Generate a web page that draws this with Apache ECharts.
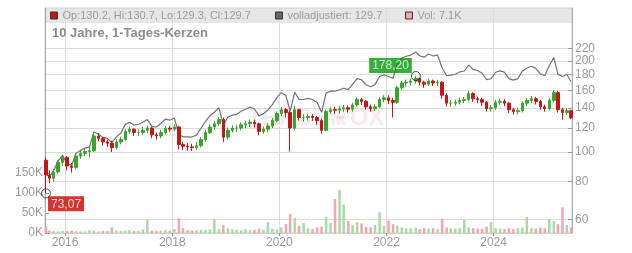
<!DOCTYPE html>
<html><head><meta charset="utf-8">
<script src="https://cdn.jsdelivr.net/npm/echarts@6/dist/echarts.min.js"></script>
<style>html,body{margin:0;padding:0;background:#fff}#c{width:632px;height:253px}</style>
</head><body><div id="c"></div>
<script>
// ---- data (monthly candles) ----
const dates = [
 '2015-08-24','2015-09-15','2015-10-15','2015-11-15','2015-12-15',
 '2016-01-15','2016-02-15','2016-03-15','2016-04-15','2016-05-15','2016-06-15','2016-07-15','2016-08-15','2016-09-15','2016-10-15','2016-11-15','2016-12-15',
 '2017-01-15','2017-02-15','2017-03-15','2017-04-15','2017-05-15','2017-06-15','2017-07-15','2017-08-15','2017-09-15','2017-10-15','2017-11-15','2017-12-15',
 '2018-01-15','2018-02-15','2018-03-15','2018-04-15','2018-05-15','2018-06-15','2018-07-15','2018-08-15','2018-09-15','2018-10-15','2018-11-15','2018-12-15',
 '2019-01-15','2019-02-15','2019-03-15','2019-04-15','2019-05-15','2019-06-15','2019-07-15','2019-08-15','2019-09-15','2019-10-15','2019-11-15','2019-12-15',
 '2020-01-15','2020-02-15','2020-03-15','2020-04-15','2020-05-15','2020-06-15','2020-07-15','2020-08-15','2020-09-15','2020-10-15','2020-11-15','2020-12-15',
 '2021-01-15','2021-02-15','2021-03-15','2021-04-15','2021-05-15','2021-06-15','2021-07-15','2021-08-15','2021-09-15','2021-10-15','2021-11-15','2021-12-15',
 '2022-01-15','2022-02-15','2022-03-15','2022-04-15','2022-05-15','2022-06-15','2022-07-20','2022-08-15','2022-09-15','2022-10-15','2022-11-15','2022-12-15',
 '2023-01-15','2023-02-15','2023-03-15','2023-04-15','2023-05-15','2023-06-15','2023-07-15','2023-08-15','2023-09-15','2023-10-15','2023-11-15','2023-12-15',
 '2024-01-15','2024-02-15','2024-03-15','2024-04-15','2024-05-15','2024-06-15','2024-07-15','2024-08-15','2024-09-15','2024-10-15','2024-11-15','2024-12-15',
 '2025-01-15','2025-02-15','2025-03-15','2025-04-15','2025-05-15','2025-06-12'
];
const opens = [
 94,84,82,86,92.5,
 96,90,89,97,99,100.5,101,113,111,108,107,103.5,
 108,110,117,119,116,116,118,120,114,113,116,120,
 119,121,106,104.5,104,103.5,105,110,116,121,124,128,
 112,118,120,120,123,124,125.5,124,117,119,122,127,
 134,138,135,120,138,130,130,131,130,127,118,136,
 138,137.5,139,140,138.5,143,149,147,141,139,141,149,
 151,148,146,163,169,170,171.5,175,170,167.5,171.5,169,
 170,154,145,145,146,148,149,156,150,149,146,139,
 140,146,147,145,138,136,137,145,148,150,147,141,
 139,148,157,138,135,137
];
const closes = [
 84,82,86,92.5,96,
 90,89,97,99,100.5,101,113,111,108,107,103.5,108,
 110,117,119,116,116,118,120,114,113,116,120,119,
 121,106,104.5,104,103.5,105,110,116,121,124,128,112,
 118,120,120,123,124,125.5,124,117,119,122,127,134,
 138,135,120,138,130,130,131,130,127,118,136,138,
 137.5,139,140,138.5,143,149,147,141,139,141,149,151,
 148,146,163,169,170,171.5,175,170,167.5,171.5,169,170,
 154,145,145,146,148,149,156,150,149,146,139,140,
 146,147,145,138,136,137,145,148,150,147,141,139,
 148,157,138,135,137,129.7
];
const lows = [
 73.07,79,80,85,90,
 87,85.5,88,95,97,96,100,108.5,105,104,100,102,
 106,109,115,113,113,114,115.5,111,110,111,114.5,116.5,
 117,102,101.5,101,101,101.5,103.5,108.5,114.5,118.5,122,108,
 110,116,116.5,118,120,121,120.5,113.5,115,116.5,120,125.5,
 131,130,100.5,118,127,126,127,126.5,123,115,117,133.5,
 133.5,134,135.5,135,136,141.5,143,138,136,136.5,139.5,146,
 144,130,144,160.5,164.5,166,168,166,163,165,165,165,
 150,141.5,141,142,143.5,145,147,146.5,145,142,136,136,
 138,143,141.5,134.5,133,133,135,142,145,143.5,138,136,
 137,146,135,128,132.5,128.5
];
const highs = [
 96,87,88,94,98,
 97,92,99,101.5,103,104,115,115.5,112,110,109,110.5,
 112.5,119,121.5,120,119,121,122.5,121,116,118.5,122,122,
 123.5,122,108,107,106.5,108,112,118.5,123.5,126.5,130.5,130,
 120.5,122.5,123,125.5,127,128,128,125,121.5,124.5,129.5,136,
 141,140,137,142,139,133.5,134,133.5,131.5,129,138,140.5,
 141,142,143,142.5,145.5,151.5,151,148.5,143.5,144,151.5,154,
 154,151,165.5,171.5,173.5,174.5,178.2,176,172,174,173.5,173,
 171.5,156,148.5,149,151,152,159,157.5,152.5,151,147.5,143,
 148.5,150,149.5,146.5,140,140,147.5,150.5,153,152,148.5,143.5,
 150.5,160,159,140,139.5,138
];
const adjusted = [
 85,82.5,87,93.5,97.5,
 91.4,90.5,98.9,101.3,103.1,103.8,116.5,114.7,111.8,111,107.5,112.2,
 115.5,123.4,125.5,122.8,123.3,125.4,128,121.6,121,124.2,128.5,127.4,
 129.6,114,112.3,112.2,112.1,113.7,119.6,126.1,132,135.3,140.2,122.6,
 130.3,132.5,133,136.3,138.5,140.7,139,131.6,133.9,137.7,143.4,151.3,
 157,153.6,136.6,157.6,149.1,149.1,150.3,149.1,145.7,135.3,156.5,158.8,
 158.8,160.5,162.4,160.7,167.7,174.8,173.2,166.7,164.3,167.2,177.5,179.8,
 177.6,175.2,196.3,204.3,207.1,208.9,214,207.9,205.7,210.6,207.5,208.8,
 189.7,178.6,179.4,180.6,183.8,185.1,193.8,187.1,185.8,182.1,173.3,174.6,
 183.4,185.4,183.6,174.7,172.7,174.7,184.9,189.4,192,188.9,181.2,178.6,
 193.1,204.9,180.8,177.5,180.2,170.6
];
const volumesK = [
 17,6,5,4,5,
 5,6,5,4,4,7,6,4,5,5,14,6,
 5,6,7,5,6,9,33,6,5,6,7,6,
 10,37,12,7,6,7,8,7,9,34,10,20,
 12,9,8,7,10,7,8,11,8,27,10,9,
 14,22,47,38,18,25,12,10,14,16,40,25,
 85,108,71,30,20,27,24,15,14,20,52,18,
 31,22,18,14,12,12,13,10,12,11,12,10,
 36,14,12,11,12,33,14,12,11,10,16,27,
 12,11,10,12,10,12,14,40,12,11,13,12,
 35,30,22,64,20,14
];
const priceTicks = [60, 80, 100, 120, 140, 160, 180, 200, 220];
const volumeTicks = [0, 50, 100, 150];
const yearTicks = ['2016-01-01', '2018-01-01', '2020-01-01', '2022-01-01', '2024-01-01'];
const axisStart = '2015-08-17', axisEnd = '2025-06-19';
const lowPoint = ['2015-08-24', 73.07];
const highPoint = ['2022-07-20', 178.20];
const lastOpen = 130.2, lastHigh = 130.7, lastLow = 129.3, lastClose = 129.7;
const lastAdjusted = 129.7;
const lastVolume = '7.1K';

// ---- styles ----
const UP = '#3aa52c', DOWN = '#c71515';
const VOL_UP = '#a9dba1', VOL_DOWN = '#f2a5ad';
const LABEL = '#9a9a9a', GRID = '#dcdcdc';

const T = d => Date.parse(d + 'T00:00:00Z');
const candleData = dates.map((d, i) => [T(d), opens[i], closes[i], lows[i], highs[i]]);
const adjData = dates.map((d, i) => [T(d), adjusted[i]]);
const volData = dates.map((d, i) => ({
  value: [T(d), volumesK[i]],
  itemStyle: { color: closes[i] >= opens[i] ? VOL_UP : VOL_DOWN }
}));
const fmt = v => v.toFixed(2).replace('.', ',');

const chart = echarts.init(document.getElementById('c'));
const legendBase = {
  top: 10, itemWidth: 7, itemHeight: 7, icon: 'rect', padding: 0,
  selectedMode: false, textStyle: { color: LABEL, fontSize: 11 }
};
chart.setOption({
  animation: false,
  textStyle: { fontFamily: 'Liberation Sans, Arial, sans-serif' },
  title: {
    text: '10 Jahre, 1-Tages-Kerzen', left: 52, top: 27, padding: 0,
    textStyle: { fontSize: 13, fontWeight: 'bold', color: '#8c8c8c' }
  },
  graphic: [
    { type: 'rect', z: -10, silent: true, shape: { x: 45, y: 8, width: 527, height: 15 }, style: { fill: '#e6e6e6' } },
    { type: 'text', z: -9, silent: true, left: 247, top: 106, style: { text: 'TRADER', font: 'bold 24px Liberation Sans', fill: 'rgba(90,90,90,0.10)' } },
    { type: 'text', z: -9, silent: true, left: 335, top: 106, style: { text: 'FOX', font: 'bold 24px Liberation Sans', fill: 'rgba(235,70,90,0.13)' } }
  ],
  legend: [
    Object.assign({}, legendBase, { left: 50, data: [{ name: 'Kurs', itemStyle: { color: DOWN, borderColor: '#333', borderWidth: 1 } }],
      formatter: () => 'Op:' + lastOpen + ', Hi:' + lastHigh + ', Lo:' + lastLow + ', Cl:' + lastClose }),
    Object.assign({}, legendBase, { left: 275, data: [{ name: 'volladjustiert', itemStyle: { color: '#666', borderColor: '#333', borderWidth: 1 } }],
      formatter: () => 'volladjustiert: ' + lastAdjusted }),
    Object.assign({}, legendBase, { left: 405, data: [{ name: 'Vol', itemStyle: { color: VOL_DOWN, borderColor: '#333', borderWidth: 1 } }],
      formatter: () => 'Vol: ' + lastVolume })
  ],
  grid: { left: 45, right: 60, top: 8, bottom: 20, show: true, borderColor: '#cfcfcf', borderWidth: 1 },
  xAxis: {
    type: 'value', min: T(axisStart), max: T(axisEnd),
    axisLine: { lineStyle: { color: '#cfcfcf' } },
    axisTick: { show: true, customValues: yearTicks.map(T), length: 3, lineStyle: { color: '#999' } },
    axisLabel: { customValues: yearTicks.map(T), color: LABEL, fontSize: 12, margin: 4,
      formatter: v => String(new Date(v).getUTCFullYear()) },
    splitLine: { show: true, lineStyle: { color: GRID } }
  },
  yAxis: [
    {
      type: 'log', position: 'right', min: 54.07, max: 298.8,
      axisLine: { show: true, lineStyle: { color: '#a8a8a8' } },
      axisTick: { show: true, inside: true, length: 4, customValues: priceTicks, lineStyle: { color: '#999' } },
      axisLabel: { customValues: priceTicks, color: LABEL, fontSize: 12, margin: 3 },
      splitLine: { show: true, lineStyle: { color: GRID } }
    },
    {
      type: 'value', position: 'left', min: 0, max: 562.5,
      axisLine: { show: true, lineStyle: { color: '#a8a8a8' } },
      axisTick: { show: true, inside: true, length: 4, customValues: volumeTicks, lineStyle: { color: '#999' } },
      axisLabel: { customValues: volumeTicks, color: LABEL, fontSize: 12, margin: 2, formatter: v => v + 'K' },
      splitLine: { show: false }
    }
  ],
  series: [
    {
      name: 'Vol', type: 'bar', yAxisIndex: 1, barWidth: 2.5, data: volData, z: 1
    },
    {
      name: 'volladjustiert', type: 'line', yAxisIndex: 0, data: adjData, showSymbol: false,
      lineStyle: { color: '#727272', width: 1.2 }, itemStyle: { color: '#666' }, z: 2
    },
    {
      name: 'Kurs', type: 'candlestick', yAxisIndex: 0, data: candleData, barWidth: 3, z: 3,
      itemStyle: { color: UP, color0: DOWN, borderColor: UP, borderColor0: DOWN, borderWidth: 1 }
    },
    {
      name: 'marks', type: 'scatter', yAxisIndex: 0, z: 5, symbol: 'circle', symbolSize: 9,
      itemStyle: { color: 'rgba(0,0,0,0)', borderColor: '#222', borderWidth: 1 },
      data: [
        { value: [T(lowPoint[0]), lowPoint[1]], label: { show: true, position: [7, 8], align: 'left', verticalAlign: 'top',
          formatter: p => fmt(p.value[1]), backgroundColor: '#cc0000', color: '#fff', fontSize: 12, padding: [2, 3, 1, 3] } },
        { value: [T(highPoint[0]), highPoint[1]], label: { show: true, position: [1, -13], align: 'right', verticalAlign: 'top',
          formatter: p => fmt(p.value[1]), backgroundColor: '#089808', color: '#fff', fontSize: 12, padding: [2, 3, 1, 3] } }
      ]
    }
  ]
});
</script></body></html>
